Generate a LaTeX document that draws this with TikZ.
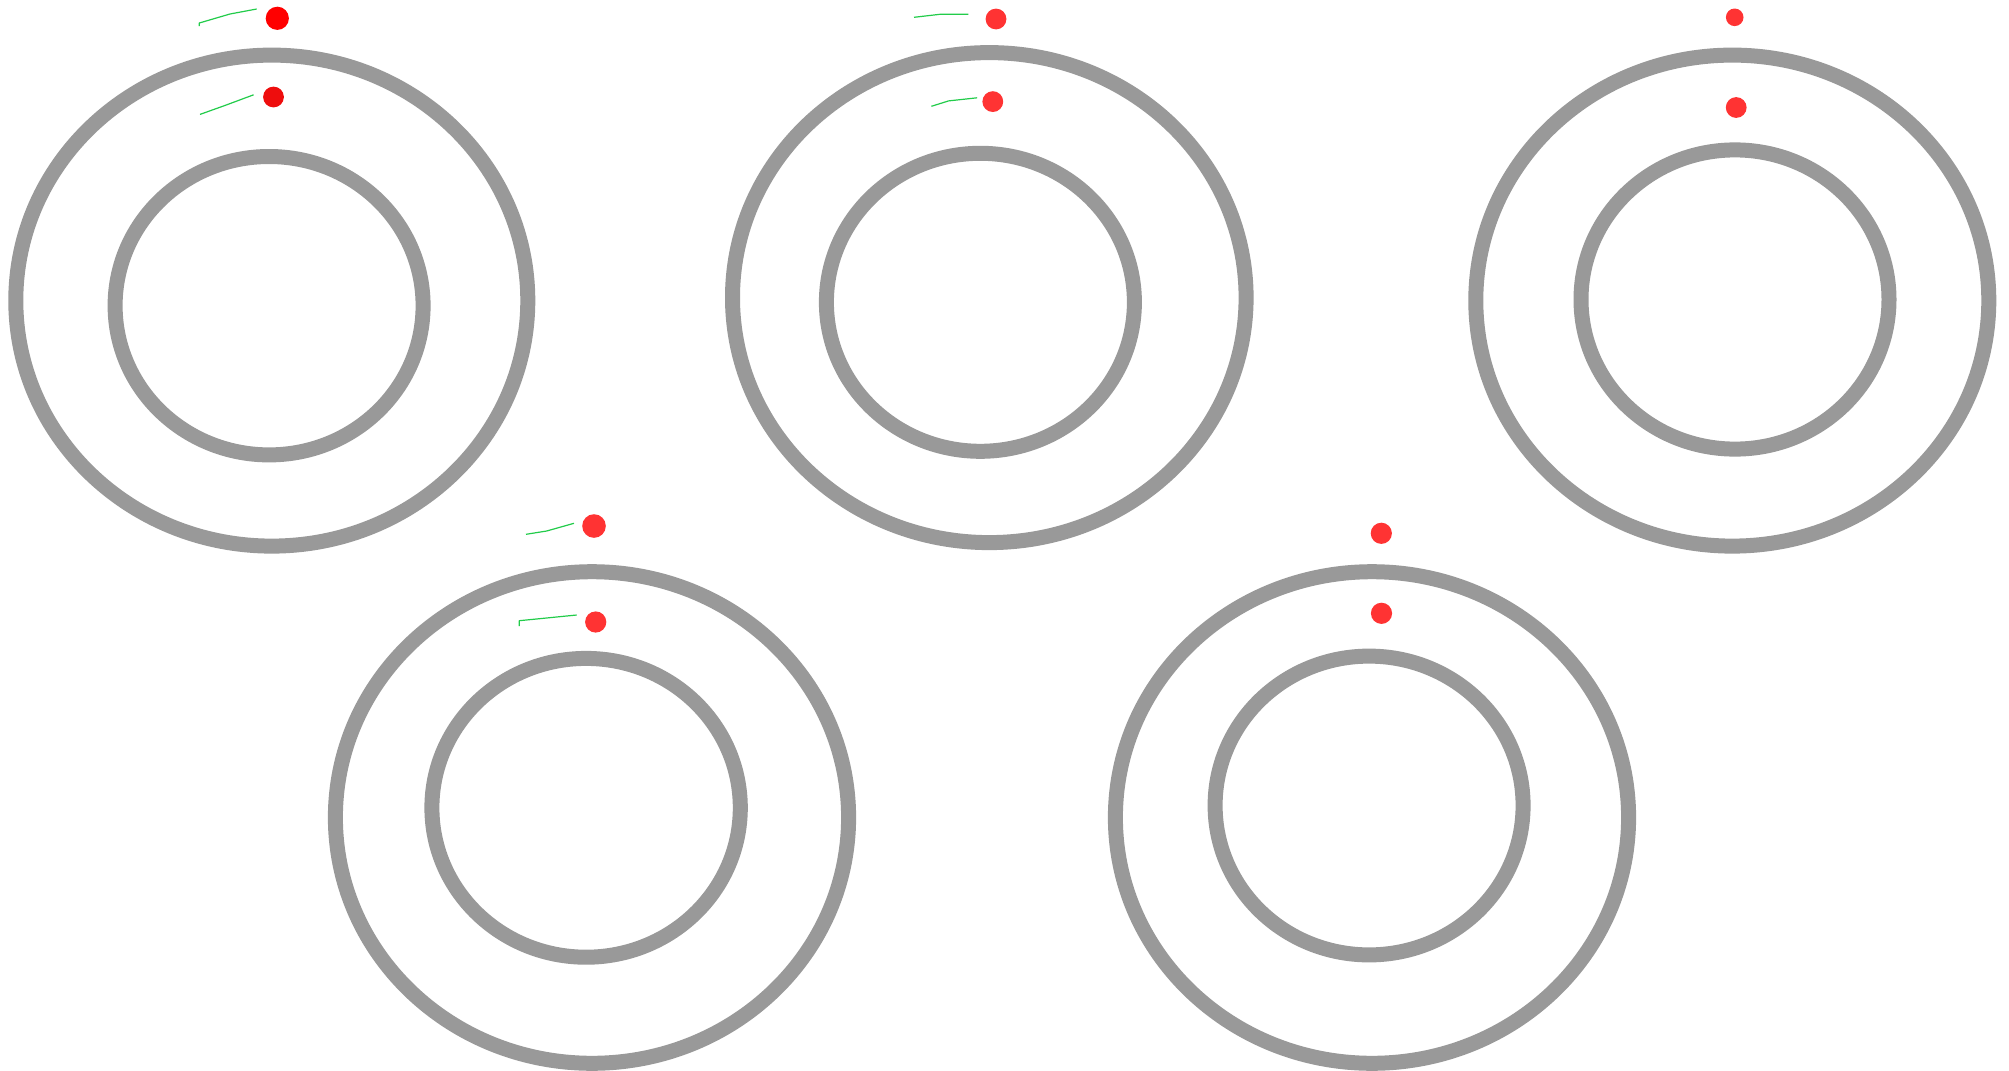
\documentclass[tikz,border=0pt]{standalone}
\usepackage{xcolor}
\definecolor{ringgray}{HTML}{999999}
\definecolor{dotred}{HTML}{FF3333}
\definecolor{dotpure}{HTML}{FF0000}
\definecolor{dotdark}{HTML}{EE0D0D}
\definecolor{trail}{HTML}{22CC4A}
\tikzset{
  ring/.style={draw=ringgray, line width=7.5pt},
  trailline/.style={draw=trail, line width=0.6pt, line join=round},
}
\begin{document}
\begin{tikzpicture}[x=0.5pt,y=0.5pt]
\useasboundingbox[fill=white] (0,0) rectangle (2009,-1071);
% Panel 1
\draw[ring] (271.8,-300.6) ellipse [x radius=128pt, y radius=122.75pt];
\draw[ring] (269.1,-305.7) ellipse [x radius=77pt, y radius=74.6pt];
\fill[dotpure] (277.3,-18.3) circle [radius=5.8pt];
\fill[dotdark] (273.5,-97) circle [radius=5.2pt];
\draw[trailline] (199.3,-26) -- (199.3,-23) -- (230,-14) -- (256.7,-9);
\draw[trailline] (200,-114.4) -- (225.7,-105.2) -- (253.6,-94.8);
% Panel 2
\draw[ring] (989.3,-297.6) ellipse [x radius=128.4pt, y radius=122.5pt];
\draw[ring] (980.4,-302.3) ellipse [x radius=77pt, y radius=74.5pt];
\fill[dotred] (996,-19) circle [radius=5.2pt];
\fill[dotred] (992.8,-101.6) circle [radius=5.2pt];
\draw[trailline] (914,-17.3) -- (940,-14.3) -- (968.3,-14.3);
\draw[trailline] (931.4,-106.3) -- (948.6,-100.9) -- (977.1,-97.8);
% Panel 3
\draw[ring] (1732.3,-300.6) ellipse [x radius=128.25pt, y radius=122.75pt];
\draw[ring] (1735,-299.5) ellipse [x radius=77pt, y radius=74.8pt];
\fill[dotred] (1734.7,-17.3) circle [radius=4.4pt];
\fill[dotred] (1736.2,-107.5) circle [radius=5.2pt];
% Panel 4
\draw[ring] (592,-817.5) ellipse [x radius=128.3pt, y radius=122.9pt];
\draw[ring] (586.1,-807.8) ellipse [x radius=77.1pt, y radius=74.7pt];
\fill[dotred] (594,-526) circle [radius=5.9pt];
\fill[dotred] (595.7,-622) circle [radius=5.3pt];
\draw[trailline] (526,-534.3) -- (546.7,-531) -- (574,-523.3);
\draw[trailline] (519.3,-626) -- (519.3,-620.7) -- (576.7,-615);
% Panel 5
\draw[ring] (1372,-817.5) ellipse [x radius=128.3pt, y radius=122.9pt];
\draw[ring] (1369.1,-805.5) ellipse [x radius=77pt, y radius=74.7pt];
\fill[dotred] (1381.3,-533.3) circle [radius=5.3pt];
\fill[dotred] (1381.5,-613.3) circle [radius=5.3pt];
\end{tikzpicture}
\end{document}
